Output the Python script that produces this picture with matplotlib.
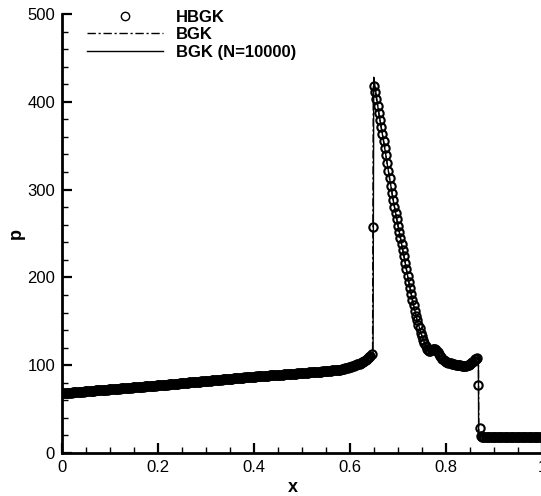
import numpy as np
import matplotlib
matplotlib.use("Agg")
import matplotlib.pyplot as plt
from matplotlib.ticker import MultipleLocator, FuncFormatter

plt.rcParams['font.family'] = ['Liberation Sans', 'DejaVu Sans']

# HBGK solution (cell spacing 0.0025)
# left part, x = 0 .. 0.64
hbgk_x_left = np.linspace(0.0, 0.64, 257)
hbgk_p_left = [
    68.0, 68.1, 68.2, 68.3, 68.5, 68.6, 68.7, 68.8, 68.9, 69.0,
    69.1, 69.3, 69.4, 69.5, 69.6, 69.7, 69.8, 69.9, 70.0, 70.2,
    70.3, 70.4, 70.5, 70.6, 70.7, 70.8, 70.9, 71.1, 71.2, 71.3,
    71.4, 71.5, 71.6, 71.7, 71.8, 72.0, 72.1, 72.2, 72.3, 72.4,
    72.5, 72.6, 72.7, 72.9, 73.0, 73.1, 73.2, 73.3, 73.4, 73.5,
    73.6, 73.8, 73.9, 74.0, 74.1, 74.2, 74.3, 74.4, 74.5, 74.7,
    74.8, 74.9, 75.0, 75.1, 75.2, 75.3, 75.4, 75.6, 75.7, 75.8,
    75.9, 76.0, 76.1, 76.2, 76.3, 76.5, 76.6, 76.7, 76.8, 76.9,
    77.0, 77.1, 77.3, 77.4, 77.5, 77.6, 77.8, 77.9, 78.0, 78.1,
    78.3, 78.4, 78.5, 78.6, 78.8, 78.9, 79.0, 79.1, 79.3, 79.4,
    79.5, 79.6, 79.8, 79.9, 80.0, 80.1, 80.3, 80.4, 80.5, 80.6,
    80.8, 80.9, 81.0, 81.1, 81.3, 81.4, 81.5, 81.6, 81.8, 81.9,
    82.0, 82.1, 82.3, 82.4, 82.5, 82.6, 82.8, 82.9, 83.0, 83.1,
    83.3, 83.4, 83.5, 83.6, 83.8, 83.9, 84.0, 84.1, 84.3, 84.4,
    84.5, 84.6, 84.8, 84.9, 85.0, 85.1, 85.3, 85.4, 85.5, 85.6,
    85.8, 85.9, 86.0, 86.1, 86.3, 86.4, 86.5, 86.6, 86.8, 86.9,
    87.0, 87.1, 87.2, 87.3, 87.4, 87.5, 87.6, 87.7, 87.8, 87.9,
    88.0, 88.1, 88.2, 88.3, 88.4, 88.5, 88.6, 88.7, 88.8, 88.9,
    89.0, 89.1, 89.2, 89.3, 89.4, 89.5, 89.6, 89.7, 89.8, 89.9,
    90.0, 90.1, 90.2, 90.3, 90.4, 90.5, 90.6, 90.7, 90.8, 90.9,
    91.0, 91.1, 91.2, 91.3, 91.4, 91.6, 91.7, 91.8, 91.9, 92.0,
    92.1, 92.2, 92.3, 92.5, 92.6, 92.7, 92.8, 92.9, 93.0, 93.2,
    93.3, 93.4, 93.5, 93.7, 93.8, 94.0, 94.1, 94.3, 94.4, 94.6,
    94.7, 94.9, 95.0, 95.3, 95.6, 95.9, 96.3, 96.7, 97.1, 97.5,
    98.0, 98.4, 98.9, 99.3, 99.8, 100.3, 100.8, 101.3, 101.9, 102.5,
    103.2, 104.0, 104.8, 105.8, 106.8, 108.0, 109.2,
]
# blast region, x = 0.6425 .. 0.875
hbgk_x_mid = np.linspace(0.6425, 0.875, 94)
hbgk_p_mid = [
    111.0, 113.0, 257.0, 418.0, 411.0, 403.0, 395.0, 387.0, 379.0, 371.0,
    363.0, 355.0, 347.0, 339.0, 330.0, 321.0, 313.0, 304.0, 296.0, 288.0,
    280.0, 273.0, 266.0, 259.0, 252.0, 245.0, 238.0, 231.0, 224.0, 216.0,
    209.0, 202.0, 195.0, 188.0, 181.0, 174.0, 168.0, 162.0, 156.0, 151.0,
    146.0, 142.0, 137.0, 133.0, 129.0, 125.0, 122.0, 119.0, 117.0, 116.0,
    116.0, 117.0, 118.0, 119.0, 118.0, 117.0, 115.0, 113.0, 111.0, 109.0,
    107.0, 106.0, 105.0, 104.0, 103.5, 103.0, 102.5, 102.0, 101.5, 101.0,
    101.0, 100.5, 100.5, 100.0, 100.0, 100.0, 99.5, 99.5, 99.5, 99.5,
    99.5, 100.0, 100.5, 101.0, 102.0, 103.5, 105.0, 106.5, 107.5, 108.0,
    77.0, 28.0, 19.0, 18.5,
]
# right state, x = 0.8775 .. 1
hbgk_x_right = np.linspace(0.8775, 1.0, 50)
hbgk_p_right = [
    18.5, 18.5, 18.5, 18.5, 18.5, 18.5, 18.5, 18.5, 18.5, 18.5,
    18.5, 18.5, 18.5, 18.5, 18.5, 18.5, 18.5, 18.5, 18.5, 18.5,
    18.5, 18.5, 18.5, 18.5, 18.5, 18.5, 18.5, 18.5, 18.5, 18.5,
    18.5, 18.5, 18.5, 18.5, 18.5, 18.5, 18.5, 18.5, 18.5, 18.5,
    18.5, 18.5, 18.5, 18.5, 18.5, 18.5, 18.5, 18.5, 18.5, 18.5,
]

# BGK lines (vertices)
bgk_x = [0.0, 0.1, 0.2, 0.3, 0.4, 0.5, 0.58, 0.60, 0.62, 0.64, 0.647,
         0.6485, 0.652, 0.66, 0.67, 0.68, 0.69, 0.70, 0.71, 0.72, 0.73,
         0.74, 0.75, 0.76, 0.765, 0.775, 0.78, 0.79, 0.80, 0.82, 0.84,
         0.85, 0.86, 0.865, 0.8675, 0.8685, 0.88, 1.0]
bgk_p = [68.0, 72.5, 77.0, 82.0, 87.0, 91.0, 95.0, 98.5, 102.5, 109.0, 112.5,
         418.0, 414.0, 387.0, 355.0, 321.0, 288.0, 259.0, 231.0, 202.0, 174.0,
         151.0, 133.0, 119.0, 116.0, 119.0, 117.0, 109.0, 104.0, 100.5, 99.5,
         101.0, 106.5, 108.0, 108.0, 18.5, 18.5, 18.5]

fine_x = [0.0, 0.1, 0.2, 0.3, 0.4, 0.5, 0.58, 0.60, 0.62, 0.64, 0.647,
          0.648, 0.6495, 0.652, 0.66, 0.67, 0.68, 0.69, 0.70, 0.71, 0.72, 0.73,
          0.74, 0.75, 0.76, 0.765, 0.775, 0.78, 0.79, 0.80, 0.82, 0.84,
          0.85, 0.86, 0.865, 0.8675, 0.868, 0.88, 1.0]
fine_p = [68.0, 72.5, 77.0, 82.0, 87.0, 91.0, 95.0, 98.5, 102.5, 109.0, 113.0,
          113.5, 428.0, 418.0, 387.0, 355.0, 321.0, 288.0, 259.0, 231.0, 202.0, 174.0,
          151.0, 133.0, 119.0, 116.0, 119.0, 117.0, 109.0, 104.0, 100.5, 99.5,
          101.0, 106.5, 108.0, 108.0, 18.5, 18.5, 18.5]

fig = plt.figure(figsize=(5.41, 4.96), dpi=100)
ax = fig.add_axes([62 / 541, 43 / 496, 480 / 541, 439 / 496])

hx = np.concatenate([hbgk_x_left, hbgk_x_mid, hbgk_x_right])
hp = np.concatenate([hbgk_p_left, hbgk_p_mid, hbgk_p_right])

ax.plot(hx, hp, 'o', ms=6, mfc='none', mec='black', mew=1.5, label='HBGK', zorder=3)
ax.plot(bgk_x, bgk_p, color='black', lw=1.0, ls=(0, (6, 2, 1.5, 2)), label='BGK', zorder=2)
ax.plot(fine_x, fine_p, color='black', lw=1.0, ls='-', label='BGK (N=10000)', zorder=2)

ax.set_xlim(0, 1)
ax.set_ylim(0, 500)

ax.spines['top'].set_visible(False)
ax.spines['right'].set_visible(False)
ax.spines['left'].set_linewidth(2.0)
ax.spines['bottom'].set_linewidth(2.0)

ax.xaxis.set_major_locator(MultipleLocator(0.2))
ax.xaxis.set_minor_locator(MultipleLocator(0.05))
ax.yaxis.set_major_locator(MultipleLocator(100))
ax.yaxis.set_minor_locator(MultipleLocator(20))
ax.xaxis.set_major_formatter(FuncFormatter(lambda v, pos: '%g' % v))

ax.tick_params(which='major', direction='in', length=7, width=1.6, labelsize=12, pad=5)
ax.tick_params(which='minor', direction='in', length=4, width=1.0)
ax.tick_params(top=False, right=False, which='both')

ax.set_xlabel('x', fontsize=13, fontweight='bold')
ax.set_ylabel('p', fontsize=13, fontweight='bold')
ax.xaxis.set_label_coords(0.48, -0.06)
ax.yaxis.set_label_coords(-0.078, 0.5)

leg = ax.legend(loc='upper left', bbox_to_anchor=(0.052, 1.01), frameon=False,
                prop={'weight': 'bold', 'size': 12}, handlelength=4.55,
                handletextpad=0.8, labelspacing=0.15, borderpad=0,
                borderaxespad=0, numpoints=1)
# legend marker drawn thinner like the reference
leg.legend_handles[0].set_markeredgewidth(1.0)

plt.savefig('out.png', dpi=100)
